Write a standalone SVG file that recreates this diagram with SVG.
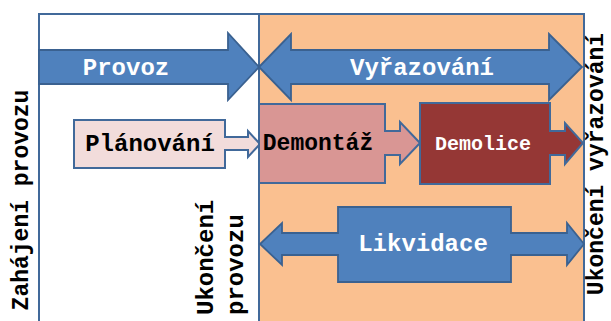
<svg xmlns="http://www.w3.org/2000/svg" width="611" height="321" viewBox="0 0 611 321">
<style>
  text { font-family: "Liberation Mono", "Courier New", monospace; font-weight: bold; }
  .frame { stroke: #41699A; stroke-width: 2; }
  .blue { fill: #4F81BD; stroke: #3A6190; stroke-width: 1.8; stroke-linejoin: miter; }
  .callout { stroke: #41699A; stroke-width: 2; }
  .w { fill: #ffffff; }
  .k { fill: #000000; }
</style>
<rect x="0" y="0" width="611" height="321" fill="#ffffff"/>
<g id="frame">
  <rect class="frame" x="39" y="14" width="220" height="320" fill="#ffffff"/>
  <rect class="frame" x="259" y="14" width="325" height="320" fill="#FAC090"/>
</g>
<g id="connectors">
  <path id="provoz-arrow" class="blue" d="M39,50 H228 V33 L259,67 L228,100 V84 H39 Z"/>
  <path id="vyrazovani-arrow" class="blue" d="M259,67 L291,34 V50 H549 V34 L582,67 L549,100 V84 H291 V100 Z"/>
</g>
<g id="provoz">
  <text class="w" x="126" y="75" font-size="24" text-anchor="middle">Provoz</text>
</g>
<g id="vyrazovani">
  <text class="w" x="422" y="75" font-size="24" text-anchor="middle">Vyřazování</text>
</g>
<g id="planovani">
  <path class="callout" fill="#F2DCDB" d="M74,120 H225 V137 H248 V131 L260,144 L248,157 V150 H225 V168 H74 Z"/>
  <text class="k" x="150" y="151" font-size="24" text-anchor="middle">Plánování</text>
</g>
<g id="demontaz">
  <path class="callout" fill="#D99694" d="M259,104 H385 V131 H400 V122 L420,143 L400,164 V155 H385 V183 H259 Z"/>
  <text class="k" x="318" y="150" font-size="23" text-anchor="middle">Demontáž</text>
</g>
<g id="demolice">
  <path class="callout" fill="#953735" d="M420,103 H550 V131 H565 V123 L583,143 L565,164 V155 H550 V184 H420 Z"/>
  <text class="w" x="483" y="150" font-size="20" text-anchor="middle">Demolice</text>
</g>
<g id="likvidace">
  <path class="blue" d="M338,207 H511 V233 H567 V223 L584,244 L567,265 V255 H511 V282 H338 V255 H282 V265 L260,244 L282,223 V233 H338 Z"/>
  <text class="w" x="423" y="251" font-size="24" text-anchor="middle">Likvidace</text>
</g>
<g id="zahajeni-provozu">
  <text class="k" transform="translate(28,200) rotate(-90)" font-size="23" text-anchor="middle">Zahájení provozu</text>
</g>
<g id="ukonceni-provozu">
  <text class="k" transform="translate(213,315) rotate(-90)" font-size="24" text-anchor="start">Ukončení</text>
  <text class="k" transform="translate(243,315) rotate(-90)" font-size="24" text-anchor="start">provozu</text>
</g>
<g id="ukonceni-vyrazovani">
  <text class="k" transform="translate(603,164) rotate(-90)" font-size="23" text-anchor="middle">Ukončení vyřazování</text>
</g>
</svg>
